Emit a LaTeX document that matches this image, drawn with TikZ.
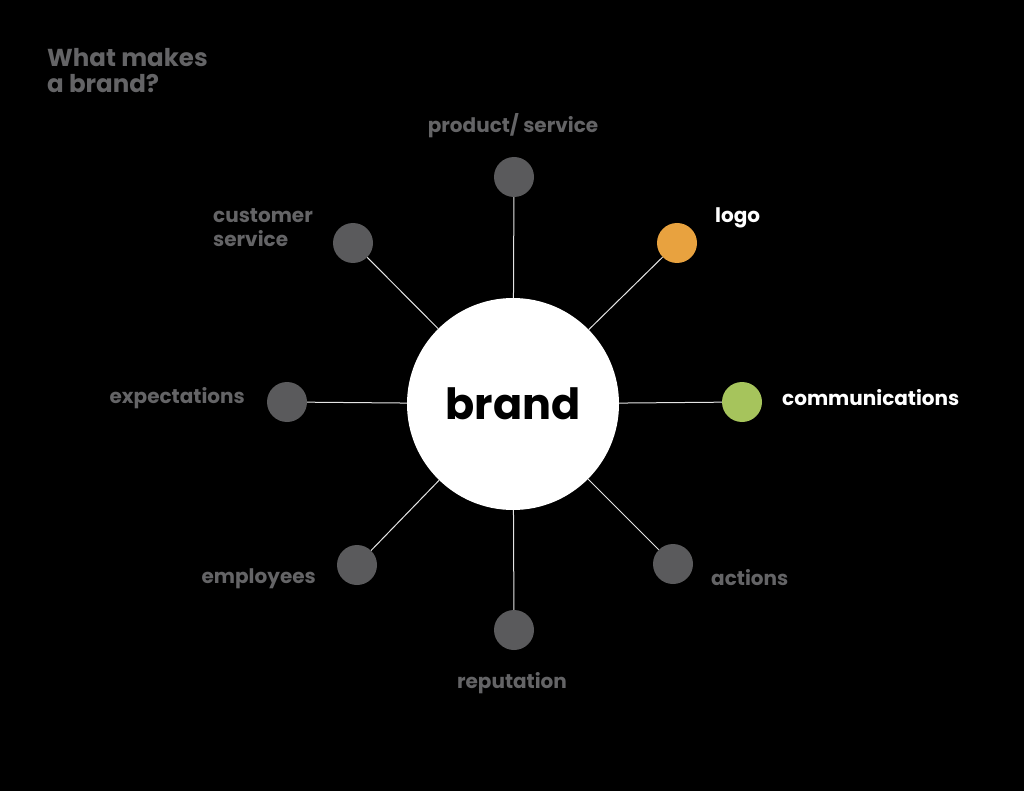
\documentclass[tikz,border=0pt]{standalone}
\usepackage{fontspec}
\setmainfont{Poppins}
\definecolor{bg}{HTML}{000000}
\definecolor{dotgray}{HTML}{5A5A5C}
\definecolor{txtgray}{HTML}{646466}
\definecolor{logoorange}{HTML}{E8A23F}
\definecolor{commgreen}{HTML}{A6C45C}
\tikzset{
  dot/.style={circle, minimum size=40pt, inner sep=0pt, fill=dotgray},
  spoke/.style={draw=white!90!black, line width=1pt},
  lbl/.style={font=\bfseries\fontsize{20}{24}\selectfont, text=txtgray, inner sep=0pt},
  lblw/.style={font=\bfseries\fontsize{20}{24}\selectfont, text=white, inner sep=0pt},
}
\begin{document}
\begin{tikzpicture}[x=1pt,y=-1pt]
\fill[bg] (0,0) rectangle (1024,791);
\useasboundingbox (0,0) rectangle (1024,791);
\node[circle, fill=white, minimum size=212pt, inner sep=0pt,
      font=\bfseries\fontsize{43}{46}\selectfont] (brand) at (513,404) {brand};
\node[dot] (prod) at (514,177) {};
\node[dot, fill=logoorange] (logo) at (677,243) {};
\node[dot, fill=commgreen] (comm) at (742,402) {};
\node[dot] (act) at (673,564) {};
\node[dot] (rep) at (514,630) {};
\node[dot] (emp) at (357,565) {};
\node[dot] (exp) at (287,402) {};
\node[dot] (cust) at (353,243) {};
\foreach \n in {prod,logo,comm,act,rep,emp,exp,cust}
  \draw[spoke] (brand) -- (\n);
\node[lbl, anchor=north west, align=left, font=\bfseries\fontsize{24.5}{26}\selectfont] (title) at (47,48) {What makes\\a brand?};
\node[lbl] (tprod) at (513,126) {product/ service};
\node[lblw, anchor=west] (tlogo) at (715,218) {logo};
\node[lblw, anchor=west] (tcomm) at (782,398) {communications};
\node[lbl, anchor=west] (tact) at (711,578) {actions};
\node[lbl] (trep) at (512,683) {reputation};
\node[lbl, anchor=east] (temp) at (316,579) {employees};
\node[lbl, anchor=east] (texp) at (245,398) {expectations};
\node[lbl, anchor=west, align=left] (tcust) at (213,228) {customer\\service};
\end{tikzpicture}
\end{document}
